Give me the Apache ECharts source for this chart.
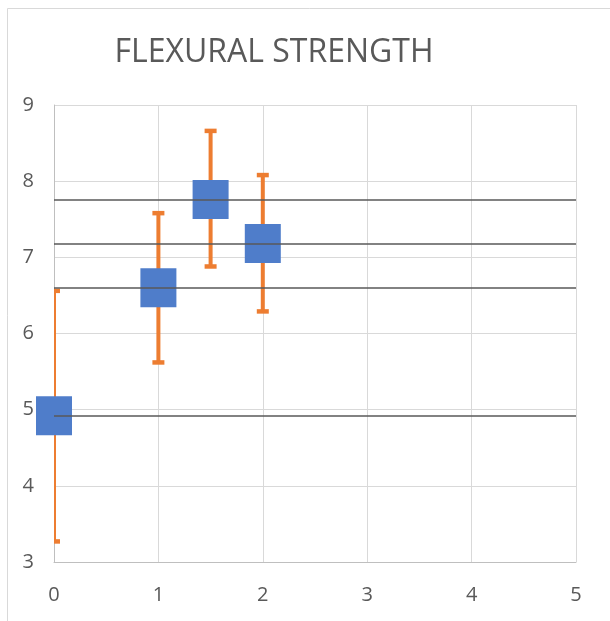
<!DOCTYPE html>
<html><head><meta charset="utf-8">
<script src="https://cdn.jsdelivr.net/npm/echarts@6/dist/echarts.min.js"></script>
<style>html,body{margin:0;padding:0;background:#fff}#c{width:610px;height:621px}</style>
</head><body><div id="c"></div>
<script>
var xValues = [0, 1, 1.5, 2];
var means = [4.92, 6.60, 7.76, 7.18];
var errLow = [3.27, 5.62, 6.88, 6.29];
var errHigh = [6.56, 7.58, 8.66, 8.08];
var xTicks = [0, 1, 2, 3, 4, 5];
var yTicks = [3, 4, 5, 6, 7, 8, 9];

var chart = echarts.init(document.getElementById('c'));
var pts = xValues.map(function (x, i) { return [x, means[i]]; });
var errs = xValues.map(function (x, i) { return [x, errLow[i], errHigh[i]]; });

chart.setOption({
  animation: false,
  backgroundColor: '#fff',
  title: {
    text: 'FLEXURAL STRENGTH', left: 269, top: 32, textAlign: 'center',
    textStyle: { fontFamily: 'Open Sans', fontWeight: 'normal', fontSize: 32, color: '#595959' }
  },
  graphic: [{ type: 'rect', shape: { x: 7.5, y: 8.5, width: 620, height: 630 },
    style: { fill: 'none', stroke: '#d9d9d9', lineWidth: 1 }, silent: true }],
  grid: { left: 54, right: 34, top: 105, bottom: 59 },
  xAxis: {
    type: 'value', min: xTicks[0], max: xTicks[xTicks.length - 1], interval: 1,
    axisLine: { show: true, lineStyle: { color: '#bfbfbf', width: 1 } },
    axisTick: { show: false },
    axisLabel: { fontFamily: 'Open Sans', fontSize: 20, color: '#595959', margin: 23 },
    splitLine: { show: true, lineStyle: { color: '#d9d9d9', width: 1 } }
  },
  yAxis: {
    type: 'value', min: yTicks[0], max: yTicks[yTicks.length - 1], interval: 1,
    axisLine: { show: true, lineStyle: { color: '#bfbfbf', width: 1 } },
    axisTick: { show: false },
    axisLabel: { fontFamily: 'Open Sans', fontSize: 20, color: '#595959', margin: 20 },
    splitLine: { show: true, lineStyle: { color: '#d9d9d9', width: 1 } }
  },
  series: [
    {
      type: 'line', data: [], z: 1,
      markLine: {
        silent: true, symbol: 'none', animation: false,
        label: { show: false },
        lineStyle: { color: '#595959', width: 1.5, type: 'solid' },
        data: means.map(function (m) { return { yAxis: m }; })
      }
    },
    {
      type: 'custom', z: 2, clip: true, data: errs,
      renderItem: function (params, api) {
        var x = api.value(0);
        var lo = api.coord([x, api.value(1)]);
        var hi = api.coord([x, api.value(2)]);
        var st = { stroke: '#ED7D31', lineWidth: 4 };
        var cw = 6;
        return {
          type: 'group', children: [
            { type: 'line', shape: { x1: lo[0], y1: lo[1], x2: hi[0], y2: hi[1] }, style: st },
            { type: 'line', shape: { x1: lo[0] - cw, y1: lo[1], x2: lo[0] + cw, y2: lo[1] }, style: { stroke: '#ED7D31', lineWidth: 4.5 } },
            { type: 'line', shape: { x1: hi[0] - cw, y1: hi[1], x2: hi[0] + cw, y2: hi[1] }, style: { stroke: '#ED7D31', lineWidth: 4.5 } }
          ]
        };
      }
    },
    {
      type: 'scatter', z: 3, data: pts, symbol: 'rect', symbolSize: [36, 39],
      itemStyle: { color: '#4F7DCA', opacity: 1 }
    }
  ]
});
</script></body></html>
